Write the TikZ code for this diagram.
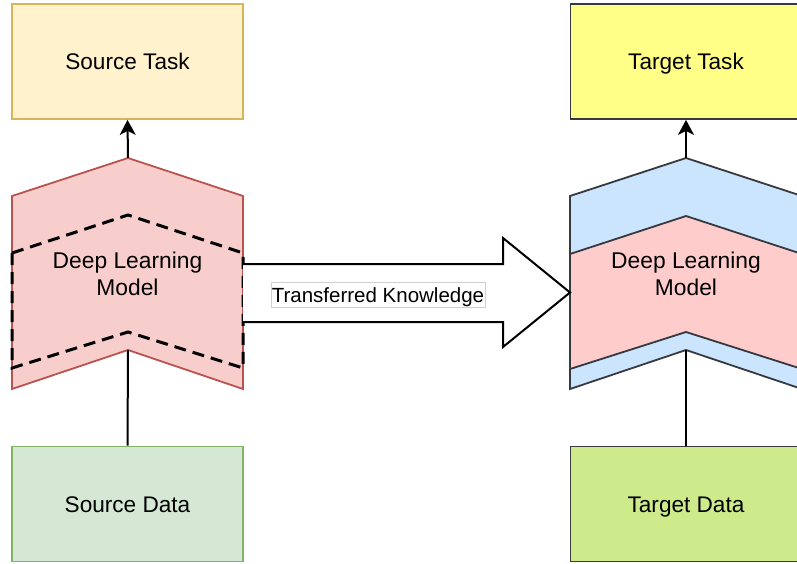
\documentclass[tikz,border=0pt]{standalone}
\usepackage{fontspec}
\setmainfont{Liberation Sans}
\usetikzlibrary{arrows.meta}

\definecolor{taskfill}{HTML}{FFF2CC}
\definecolor{taskline}{HTML}{D6B656}
\definecolor{datafill}{HTML}{D5E8D4}
\definecolor{dataline}{HTML}{82B366}
\definecolor{modelfill}{HTML}{F8CECC}
\definecolor{modelline}{HTML}{B85450}
\definecolor{tgttaskfill}{HTML}{FFFF88}
\definecolor{tgtdatafill}{HTML}{CDEB8B}
\definecolor{darkline}{HTML}{36393D}
\definecolor{bluefill}{HTML}{CCE5FF}
\definecolor{pinkfill}{HTML}{FFCCCC}
\definecolor{labelline}{HTML}{D0D0D0}

\tikzset{
  box/.style={draw, line width=1.8pt, minimum width=231pt, minimum height=115pt,
    inner sep=0pt, text height=16pt, text depth=0pt,
    font=\fontsize{22.6}{27}\selectfont},
  chev/.style={line width=1.8pt, line join=miter},
  modeltext/.style={align=center, font=\fontsize{22.8}{27}\selectfont, inner sep=0pt},
  link/.style={draw=black, line width=2pt},
  uparrow/.style={link, -{Stealth[length=15pt,width=16pt,inset=4pt]}},
  frozen/.style={draw=black, line width=3pt, dash pattern=on 12pt off 7pt},
}

\begin{document}
\begin{tikzpicture}[x=1pt, y=-1pt]
  \useasboundingbox (0,0) rectangle (797,564);

  % ---------- source side ----------
  \node[box, fill=taskfill, draw=taskline] (srctask) at (127.5,61.5) {Source Task};
  \node[box, fill=datafill, draw=dataline] (srcdata) at (127.5,504) {Source Data};

  \coordinate (srctop) at (128,158);
  \coordinate (srcnotch) at (128,350);
  \draw[chev, fill=modelfill, draw=modelline]
    (12,196) -- (srctop) -- (243,196) -- (243,389) -- (srcnotch) -- (12,389) -- cycle;
  \draw[frozen]
    (12,253) -- (128,215) -- (243,253) -- (243,368) -- (128,332) -- (12,368) -- cycle;
  \node[modeltext] (srcmodel) at (127.5,274) {Deep Learning\\Model};

  \draw[uparrow] (srctop) -- (srctask.south);
  \draw[link] (srcnotch) -- (srcdata.north);

  % ---------- target side ----------
  \node[box, fill=tgttaskfill, draw=darkline] (tgttask) at (686,61.5) {Target Task};
  \node[box, fill=tgtdatafill, draw=darkline] (tgtdata) at (686,504) {Target Data};

  \coordinate (tgttop) at (686,158);
  \coordinate (tgtnotch) at (686,350);
  \draw[chev, fill=bluefill, draw=darkline]
    (570,196) -- (tgttop) -- (802,196) -- (802,389) -- (tgtnotch) -- (570,389) -- cycle;
  \draw[chev, fill=pinkfill, draw=darkline]
    (570,254) -- (686,216) -- (802,254) -- (802,369) -- (686,332) -- (570,369) -- cycle;
  \node[modeltext] (tgtmodel) at (686,274) {Deep Learning\\Model};

  \draw[uparrow] (tgttop) -- (tgttask.south);
  \draw[link] (tgtnotch) -- (tgtdata.north);

  % ---------- transfer arrow ----------
  \coordinate (tail) at (243,293);
  \coordinate (tip) at (570,292.5);
  \draw[line width=2pt, fill=white, line join=miter]
    (243,264) -- (503,264) -- (503,238) -- (tip) -- (503,347) -- (503,322) -- (243,322);
  \node[draw=labelline, line width=0.5pt, fill=white, inner xsep=1pt, inner ysep=3pt,
        text height=17.7pt, text depth=1.3pt,
        font=\fontsize{20.5}{24}\selectfont] (transfer) at (378,294.5) {Transferred Knowledge};
\end{tikzpicture}
\end{document}
